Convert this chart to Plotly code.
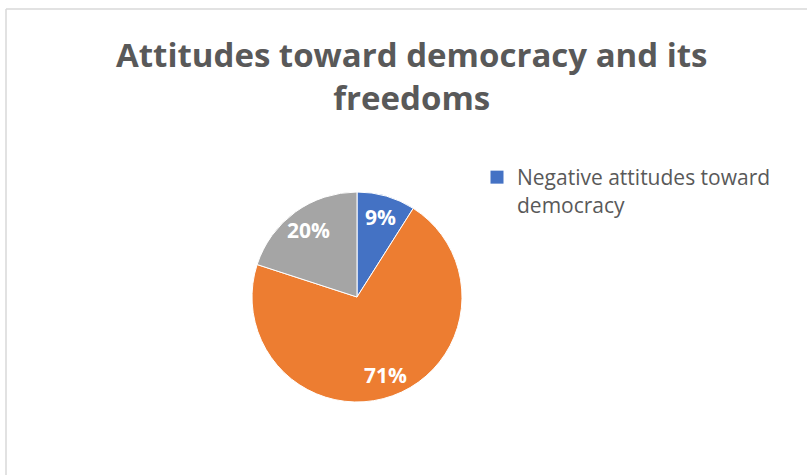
import math
import plotly.graph_objects as go

categories = ["Negative attitudes toward democracy",
              "Positive attitudes toward democracy",
              "Neutral attitudes toward democracy"]
values = [9, 71, 20]
colors = ["#4472C4", "#ED7D31", "#A5A5A5"]
title_text = "Attitudes toward democracy and its<br>freedoms"
legend_label = "Negative attitudes toward<br>democracy"

W, H = 807, 475
cx, cy, r = 357, 297, 105
label_frac = 0.79

fig = go.Figure()
fig.add_trace(go.Pie(
    labels=categories, values=values, sort=False, direction="clockwise",
    rotation=0,
    marker=dict(colors=colors, line=dict(color="white", width=1)),
    textinfo="none",
    showlegend=False,
    domain=dict(x=[(cx - r) / W, (cx + r) / W], y=[(H - cy - r) / H, (H - cy + r) / H]),
))
fig.add_trace(go.Scatter(
    x=[None], y=[None], mode="markers", name=legend_label,
    marker=dict(symbol="square", size=13, color=colors[0]),
    showlegend=True,
))

# percentage labels placed at the middle angle of each slice
total = sum(values)
annotations = []
cum = 0
for v in values:
    mid = (cum + v / 2) / total * 2 * math.pi
    cum += v
    px = cx + label_frac * r * math.sin(mid)
    py = cy - label_frac * r * math.cos(mid)
    annotations.append(dict(
        text=f"{round(v / total * 100)}%", x=px / W, y=1 - py / H,
        xref="paper", yref="paper", xanchor="center", yanchor="middle", showarrow=False,
        font=dict(family="Open Sans", size=21, color="white", weight="bold"),
    ))

annotations.append(dict(
    text=title_text, x=412 / W, y=1 - 30 / H, xref="paper", yref="paper",
    xanchor="center", yanchor="top", showarrow=False,
    font=dict(family="Open Sans", size=33, color="#595959", weight="bold"),
))

fig.update_layout(
    width=W, height=H,
    margin=dict(l=0, r=0, t=0, b=0),
    paper_bgcolor="white", plot_bgcolor="white",
    xaxis=dict(visible=False), yaxis=dict(visible=False),
    showlegend=True,
    legend=dict(x=477 / W, y=1 - 157 / H, xanchor="left", yanchor="top",
                valign="top",
                font=dict(family="Open Sans", size=21, color="#595959"),
                bgcolor="rgba(0,0,0,0)"),
    annotations=annotations,
    shapes=[
        dict(type="line", xref="paper", yref="paper", x0=6 / W, x1=6 / W, y0=0, y1=1 - 9 / H,
             line=dict(color="#D9D9D9", width=1.5)),
        dict(type="line", xref="paper", yref="paper", x0=6 / W, x1=1, y0=1 - 9 / H, y1=1 - 9 / H,
             line=dict(color="#D9D9D9", width=1.5)),
    ],
)

fig.write_html("out.html")
